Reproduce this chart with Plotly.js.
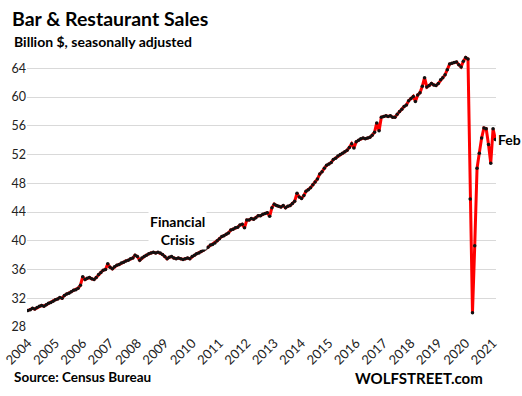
<!DOCTYPE html>
<html>
<head>
<meta charset="utf-8">
<script src="https://cdn.plot.ly/plotly-3.0.1.min.js"></script>
<style>html,body{margin:0;padding:0;background:#fff;}#chart{width:522px;height:396px;}</style>
</head>
<body>
<div id="chart"></div>
<script>
// Monthly sales, billion $, seasonally adjusted, Jan 2004 .. Feb 2021
const startYear = 2004;
const sales2004 = [30.3, 30.4, 30.6, 30.5, 30.7, 30.9, 31.0, 30.9, 31.1, 31.3, 31.4, 31.6];
const sales2005 = [31.8, 31.9, 32.1, 32.0, 32.4, 32.6, 32.7, 32.9, 33.1, 33.2, 33.4, 33.8];
const sales2006 = [35.0, 34.6, 34.8, 34.9, 34.7, 34.6, 34.9, 35.3, 35.6, 35.9, 36.0, 36.8];
const sales2007 = [36.3, 36.1, 36.4, 36.6, 36.7, 36.9, 37.0, 37.2, 37.3, 37.5, 37.6, 38.0];
const sales2008 = [37.8, 37.3, 37.6, 37.8, 38.0, 38.2, 38.3, 38.4, 38.3, 38.4, 38.3, 38.1];
const sales2009 = [37.8, 37.5, 37.7, 37.8, 37.6, 37.5, 37.6, 37.5, 37.4, 37.5, 37.6, 37.5];
const sales2010 = [37.8, 38.0, 38.2, 38.3, 38.5, 38.7, 38.9, 39.1, 39.4, 39.5, 39.7, 40.0];
const sales2011 = [40.3, 40.6, 40.7, 40.9, 41.1, 41.5, 41.6, 41.8, 41.9, 42.2, 42.3, 41.8];
const sales2012 = [42.9, 42.9, 43.1, 43.0, 43.2, 43.5, 43.5, 43.7, 43.8, 43.9, 43.4, 44.6];
const sales2013 = [45.1, 44.9, 44.8, 44.7, 44.9, 44.6, 44.8, 44.9, 45.2, 45.5, 46.6, 46.1];
const sales2014 = [45.9, 46.3, 46.9, 47.1, 47.4, 47.8, 48.2, 48.6, 49.3, 49.6, 50.1, 50.5];
const sales2015 = [50.7, 50.9, 51.3, 51.5, 51.8, 52.0, 52.2, 52.4, 52.6, 53.0, 53.5, 52.9];
const sales2016 = [53.8, 54.0, 54.2, 54.3, 54.2, 54.3, 54.4, 54.7, 55.1, 56.4, 55.3, 57.2];
const sales2017 = [57.3, 57.4, 57.3, 57.4, 57.2, 57.2, 57.6, 58.0, 58.3, 58.7, 58.9, 59.5];
const sales2018 = [59.8, 60.1, 59.4, 60.3, 60.6, 61.5, 62.7, 61.4, 61.6, 61.9, 61.7, 61.6];
const sales2019 = [61.9, 62.4, 62.7, 63.1, 63.8, 64.6, 64.7, 64.8, 64.9, 64.5, 64.2, 65.0];
const sales2020 = [65.5, 65.3, 45.8, 30.0, 39.3, 50.1, 52.2, 54.3, 55.7, 55.6, 53.4, 50.8];
const sales2021 = [55.6, 54.1];

const yTicks = [28, 32, 36, 40, 44, 48, 52, 56, 60, 64];
const lastLabel = "Feb";
const crisisLabel = "Financial<br>Crisis";

const sales = [].concat(sales2004, sales2005, sales2006, sales2007, sales2008, sales2009,
  sales2010, sales2011, sales2012, sales2013, sales2014, sales2015, sales2016, sales2017,
  sales2018, sales2019, sales2020, sales2021);
const dates = sales.map((v, i) => {
  const y = startYear + Math.floor(i / 12);
  const m = (i % 12) + 1;
  return y + "-" + String(m).padStart(2, "0") + "-01";
});

const font = "Lato, 'Open Sans', sans-serif";

const trace = {
  x: dates, y: sales, type: "scatter", mode: "lines+markers",
  line: {color: "#ff0000", width: 3},
  marker: {color: "#111111", size: 3.5},
  hoverinfo: "skip"
};

const layout = {
  width: 522, height: 396,
  margin: {l: 27, r: 26, t: 54, b: 69},
  paper_bgcolor: "#ffffff", plot_bgcolor: "#ffffff",
  showlegend: false,
  font: {family: font, color: "#1a1a1a", size: 12},
  title: {
    text: "<b>Bar & Restaurant Sales</b>",
    font: {family: font, size: 19.5, color: "#000"},
    xref: "container", yref: "container",
    x: 12 / 522, xanchor: "left", y: 1 - 19 / 396, yanchor: "middle"
  },
  xaxis: {
    type: "date",
    range: ["2003-12-19", "2021-02-09"],
    tick0: "2004-01-01", dtick: "M12", tickformat: "%Y",
    tickangle: -45, showgrid: false, zeroline: false, showline: false,
    ticks: "", ticklabelstandoff: 5,
    tickfont: {family: font, size: 13, color: "#222"}
  },
  yaxis: {
    range: [28, 66], tickvals: yTicks, ticktext: yTicks.map(String),
    showgrid: true, gridcolor: "#d9d9d9", gridwidth: 1,
    zeroline: false, showline: false, ticks: "",
    tickfont: {family: font, size: 12.5, color: "#222"}
  },
  annotations: [
    {text: "<b>Billion $, seasonally adjusted</b>", xref: "paper", yref: "paper",
     x: (12 - 27) / 469, y: 1 + (54 - 42) / 273, showarrow: false,
     xanchor: "left", yanchor: "middle", font: {family: font, size: 14, color: "#000"}},
    {text: "<b>Source: Census Bureau</b>", xref: "paper", yref: "paper",
     x: (12 - 27) / 469, y: -(377 - 327) / 273, showarrow: false,
     xanchor: "left", yanchor: "middle", font: {family: font, size: 13.5, color: "#000"}},
    {text: "<b>WOLFSTREET.com</b>", xref: "paper", yref: "paper",
     x: (485 - 27) / 469, y: -(378 - 327) / 273, showarrow: false,
     xanchor: "right", yanchor: "middle", font: {family: font, size: 15, color: "#000"}},
    {text: "<b>" + crisisLabel + "</b>", x: "2009-06-15", y: 41.5, showarrow: false,
     bgcolor: "#ffffff", font: {family: font, size: 14, color: "#000"}, align: "center",
     xanchor: "center", yanchor: "middle"},
    {text: "<b>" + lastLabel + "</b>", x: dates[dates.length - 1], y: sales[sales.length - 1],
     showarrow: false, xanchor: "left", yanchor: "middle", xshift: 1,
     font: {family: font, size: 14, color: "#000"}}
  ]
};

Plotly.newPlot("chart", [trace], layout, {staticPlot: true, displayModeBar: false});
</script>
</body>
</html>
